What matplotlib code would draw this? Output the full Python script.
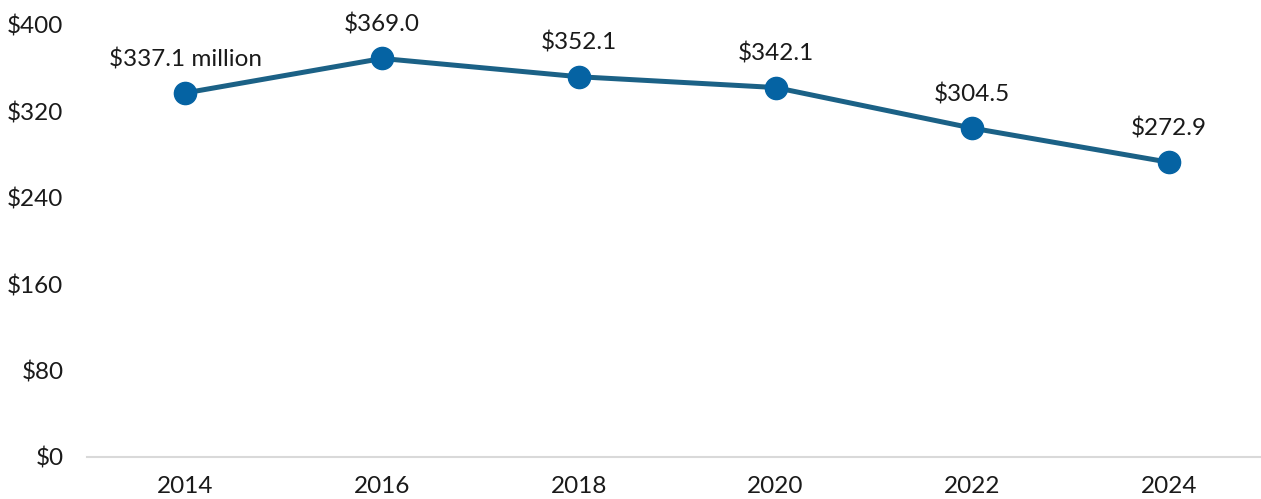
import numpy as np
import matplotlib.pyplot as plt

years = ['2014', '2016', '2018', '2020', '2022', '2024']
values = [337.1, 369.0, 352.1, 342.1, 304.5, 272.9]
labels = ['$337.1 million', '$369.0', '$352.1', '$342.1', '$304.5', '$272.9']
yticks = [0, 80, 160, 240, 320, 400]

plt.rcParams['font.family'] = ['Lato', 'DejaVu Sans']

fig = plt.figure(figsize=(12.61, 4.99), dpi=100)
ax = fig.add_axes([87 / 1261, 42 / 499, 1 - 87 / 1261, 432 / 499])

x = np.arange(len(years))
ax.plot(x, values, color='#1b6186', linewidth=3.6, zorder=2, clip_on=False)
ax.plot(x, values, 'o', color='#0563a3', markersize=16, zorder=3, clip_on=False)

for xi, v, lab in zip(x, values, labels):
    ax.annotate(lab, (xi, v), xytext=(0, 16.5), textcoords='offset points',
                ha='center', va='bottom', fontsize=17.5, color='#1a1a1a')

ax.set_xlim(-0.5, 5 + (1261 - 1169) / 196.8)
ax.set_ylim(0, 400)
ax.set_xticks(x)
ax.set_xticklabels(years)
ax.set_yticks(yticks)
ax.set_yticklabels(['$' + str(t) for t in yticks])
ax.tick_params(axis='both', length=0, labelsize=17.5, colors='#1a1a1a')
ax.tick_params(axis='y', pad=17)
ax.tick_params(axis='x', pad=14)

for s in ['top', 'right', 'left']:
    ax.spines[s].set_visible(False)
ax.spines['bottom'].set_color('#d9d9d9')
ax.spines['bottom'].set_linewidth(1.5)

fig.savefig('out.png', dpi=100)
